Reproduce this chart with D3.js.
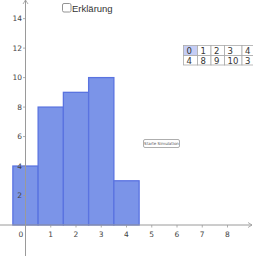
<!DOCTYPE html>
<html><head><meta charset="utf-8">
<script src="https://cdn.jsdelivr.net/npm/d3@7"></script>
<style>
html,body{margin:0;padding:0;background:#fff;}
svg{display:block;font-family:"DejaVu Sans",sans-serif;}
</style></head>
<body>
<svg id="c" width="253" height="256"></svg>
<script>
const categories = [0, 1, 2, 3, 4, 5];
const values = [4, 8, 9, 10, 3, 0];
const xTicks = [0, 1, 2, 3, 4, 5, 6, 7, 8];
const yTicks = [2, 4, 6, 8, 10, 12, 14];
const tableHeader = ["0", "1", "2", "3", "4"];
const tableRow = ["4", "8", "9", "10", "3"];
const checkboxLabel = "Erklärung";
const buttonLabel = "Starte Simulation";

const svg = d3.select("#c");
const x = d3.scaleLinear().domain([0, 8]).range([25.5, 25.5 + 8 * 25.25]);
const y = d3.scaleLinear().domain([0, 14]).range([225, 225 - 14 * 14.74]);

// bars
svg.append("g").selectAll("rect").data(categories).join("rect")
  .attr("x", d => x(d - 0.5))
  .attr("width", d => x(d + 0.5) - x(d - 0.5))
  .attr("y", (d, i) => y(values[i]))
  .attr("height", (d, i) => y(0) - y(values[i]))
  .attr("fill", "#7b94e8")
  .attr("stroke", (d, i) => values[i] === 0 ? "#aebcf2" : "#5a73e0")
  .attr("stroke-width", (d, i) => values[i] === 0 ? 2 : 1.3);

// axes
const axCol = "#9a9a9a";
svg.append("line").attr("x1", 0).attr("x2", 252).attr("y1", y(0)).attr("y2", y(0))
  .attr("stroke", axCol).attr("stroke-width", 1);
svg.append("path").attr("d", `M248,${y(0)-2.5} L252,${y(0)} L248,${y(0)+2.5}`)
  .attr("fill", "none").attr("stroke", axCol).attr("stroke-width", 0.8);
svg.append("line").attr("x1", x(0)).attr("x2", x(0)).attr("y1", 0).attr("y2", 256)
  .attr("stroke", axCol).attr("stroke-width", 1);
svg.append("path").attr("d", `M${x(0)-2.5},4 L${x(0)},0 L${x(0)+2.5},4`)
  .attr("fill", "none").attr("stroke", axCol).attr("stroke-width", 0.8);

// x ticks
const xg = svg.append("g");
xg.selectAll("line").data(xTicks.filter(d => d !== 0)).join("line")
  .attr("x1", d => x(d)).attr("x2", d => x(d))
  .attr("y1", y(0)).attr("y2", y(0) + 2.5)
  .attr("stroke", axCol).attr("stroke-width", 0.8);
xg.selectAll("text").data(xTicks).join("text")
  .attr("x", d => d === 0 ? x(d) - 4.5 : x(d))
  .attr("y", y(0) + 11.5)
  .attr("text-anchor", "middle")
  .attr("font-size", 7.5).attr("fill", "#444")
  .text(d => d);

// y ticks
const yg = svg.append("g");
yg.selectAll("line").data(yTicks).join("line")
  .attr("x1", x(0) - 2.5).attr("x2", x(0))
  .attr("y1", d => y(d)).attr("y2", d => y(d))
  .attr("stroke", axCol).attr("stroke-width", 0.8);
yg.selectAll("text").data(yTicks).join("text")
  .attr("x", x(0) - 3.5)
  .attr("y", d => y(d) + 2.6)
  .attr("text-anchor", "end")
  .attr("font-size", 7.5).attr("fill", "#444")
  .text(d => d);

// checkbox
svg.append("rect").attr("x", 62.5).attr("y", 3.5).attr("width", 8.5).attr("height", 8.5)
  .attr("rx", 1.5).attr("fill", "#fff").attr("stroke", "#888").attr("stroke-width", 0.9);
svg.append("text").attr("x", 72).attr("y", 11.5).attr("font-size", 9.5)
  .attr("fill", "#333").attr("font-family", "Liberation Sans, sans-serif").text(checkboxLabel);

// table
const colEdges = [183.5, 197.5, 211, 224.5, 242, 256];
const rowEdges = [45.5, 55.5, 65];
const tg = svg.append("g").attr("font-size", 8.5).attr("fill", "#333");
[tableHeader, tableRow].forEach((row, r) => {
  row.forEach((t, c) => {
    tg.append("rect").attr("x", colEdges[c]).attr("y", rowEdges[r])
      .attr("width", colEdges[c + 1] - colEdges[c]).attr("height", rowEdges[r + 1] - rowEdges[r])
      .attr("fill", r === 0 && c === 0 ? "#c5cdf5" : "#fff")
      .attr("stroke", "#aaa").attr("stroke-width", 0.8);
    tg.append("text").attr("x", colEdges[c] + 3).attr("y", rowEdges[r] + 8.3)
      .attr("font-family", "DejaVu Sans, sans-serif").text(t);
  });
});

// button
svg.append("rect").attr("x", 143.5).attr("y", 139.5).attr("width", 36).attr("height", 8)
  .attr("rx", 1.5).attr("fill", "#fff").attr("stroke", "#999").attr("stroke-width", 0.8);
svg.append("text").attr("x", 161.5).attr("y", 145.2).attr("text-anchor", "middle")
  .attr("font-size", 4).attr("fill", "#555").text(buttonLabel);
</script>
</body></html>
